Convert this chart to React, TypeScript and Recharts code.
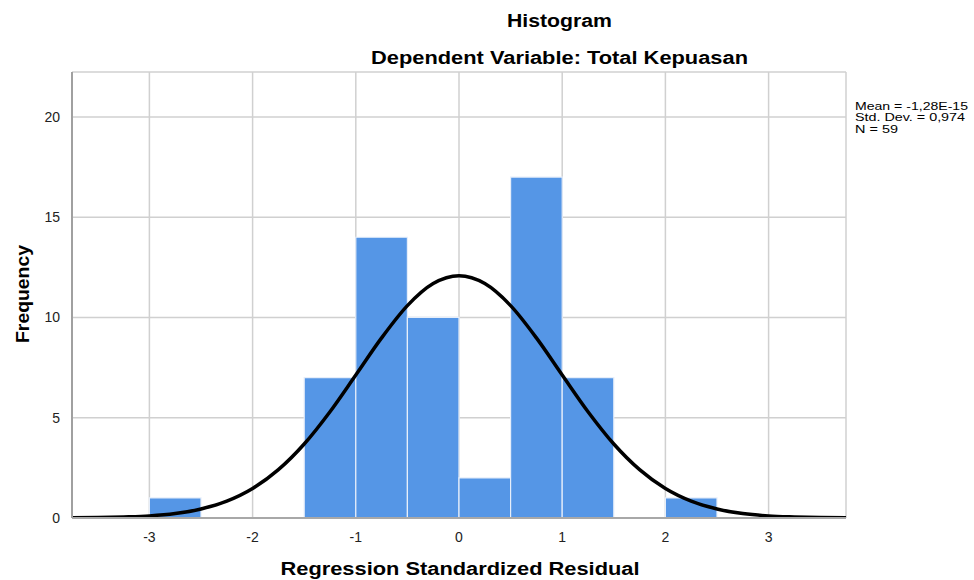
import React from "react";
import {
  ComposedChart,
  Line,
  XAxis,
  YAxis,
  CartesianGrid,
  ReferenceArea,
} from "recharts";

// Histogram bins (start of each bin, width 0.5) and frequencies
const binStarts = [-3, -1.5, -1, -0.5, 0, 0.5, 1, 2];
const binCounts = [1, 7, 14, 10, 2, 17, 7, 1];
const binWidth = 0.5;

// Normal curve points
const curveX = [
  -3.75, -3.5, -3.25, -3, -2.75, -2.5, -2.25, -2, -1.75, -1.5, -1.25, -1, -0.75,
  -0.5, -0.25, 0, 0.25, 0.5, 0.75, 1, 1.25, 1.5, 1.75, 2, 2.25, 2.5, 2.75, 3,
  3.25, 3.5, 3.75,
];
const curveY = [
  0.01, 0.02, 0.05, 0.1, 0.22, 0.45, 0.84, 1.47, 2.41, 3.69, 5.3, 7.13, 8.98,
  10.59, 11.69, 12.08, 11.69, 10.59, 8.98, 7.13, 5.3, 3.69, 2.41, 1.47, 0.84,
  0.45, 0.22, 0.1, 0.05, 0.02, 0.01,
];

const xTicks = [-3, -2, -1, 0, 1, 2, 3];
const yTicks = [0, 5, 10, 15, 20];

const title = "Histogram";
const subtitle = "Dependent Variable: Total Kepuasan";
const xLabel = "Regression Standardized Residual";
const yLabel = "Frequency";
const stats = ["Mean = -1,28E-15", "Std. Dev. = 0,974", "N = 59"];
const statWidths = [113, 110, 43];

const curveData = curveX.map((x, i) => ({ x, y: curveY[i] }));

const FONT = "'Liberation Sans', Arial, Helvetica, sans-serif";

export default function App() {
  return (
    <div
      style={{
        position: "absolute",
        left: 0,
        top: 0,
        width: 974,
        height: 580,
        background: "#fff",
        fontFamily: FONT,
      }}
    >
      <ComposedChart
        width={974}
        height={580}
        data={curveData}
        margin={{ top: 72, right: 128, bottom: 32, left: 32 }}
      >
        <CartesianGrid stroke="#d0d0d0" strokeWidth={1.5} />
        <XAxis
          dataKey="x"
          type="number"
          domain={[-3.75, 3.75]}
          ticks={xTicks}
          allowDataOverflow
          height={30}
          tickLine={false}
          tickMargin={8}
          axisLine={{ stroke: "#a8a8a8", strokeWidth: 2 }}
          tick={{ fill: "#222", fontSize: 14, fontFamily: FONT }}
        />
        <YAxis
          type="number"
          domain={[0, 22.24]}
          ticks={yTicks}
          allowDataOverflow
          width={40}
          tickLine={false}
          tickMargin={6}
          axisLine={{ stroke: "#a0a0a0", strokeWidth: 2 }}
          tick={{ fill: "#222", fontSize: 14, fontFamily: FONT }}
        />
        {binStarts.map((s, i) => (
          <ReferenceArea
            key={i}
            x1={s}
            x2={s + binWidth}
            y1={0}
            y2={binCounts[i]}
            fill="#5596e6"
            fillOpacity={1}
            stroke="#e6eefa"
            strokeWidth={1.2}
            strokeOpacity={1}
            ifOverflow="visible"
          />
        ))}
        <Line
          dataKey="y"
          type="monotone"
          stroke="#000"
          strokeWidth={3.5}
          dot={false}
          activeDot={false}
          isAnimationActive={false}
        />
      </ComposedChart>
      <svg
        width={974}
        height={580}
        style={{ position: "absolute", left: 0, top: 0, pointerEvents: "none" }}
      >
        <text
          x={559.5}
          y={26.5}
          textAnchor="middle"
          fontFamily={FONT}
          fontWeight="bold"
          fontSize={18}
          textLength={105}
          lengthAdjust="spacingAndGlyphs"
          fill="#000"
        >
          {title}
        </text>
        <text
          x={559.5}
          y={63.5}
          textAnchor="middle"
          fontFamily={FONT}
          fontWeight="bold"
          fontSize={18}
          textLength={377}
          lengthAdjust="spacingAndGlyphs"
          fill="#000"
        >
          {subtitle}
        </text>
        <text
          x={460}
          y={575}
          textAnchor="middle"
          fontFamily={FONT}
          fontWeight="bold"
          fontSize={18}
          textLength={359}
          lengthAdjust="spacingAndGlyphs"
          fill="#000"
        >
          {xLabel}
        </text>
        <text
          transform="translate(29,294) rotate(-90)"
          textAnchor="middle"
          fontFamily={FONT}
          fontWeight="bold"
          fontSize={18}
          textLength={98}
          lengthAdjust="spacingAndGlyphs"
          fill="#000"
        >
          {yLabel}
        </text>
        {stats.map((s, i) => (
          <text
            key={i}
            x={855}
            y={109.5 + i * 11.8}
            fontFamily={FONT}
            fontSize={11.5}
            textLength={statWidths[i]}
            lengthAdjust="spacingAndGlyphs"
            fill="#000"
          >
            {s}
          </text>
        ))}
      </svg>
    </div>
  );
}
